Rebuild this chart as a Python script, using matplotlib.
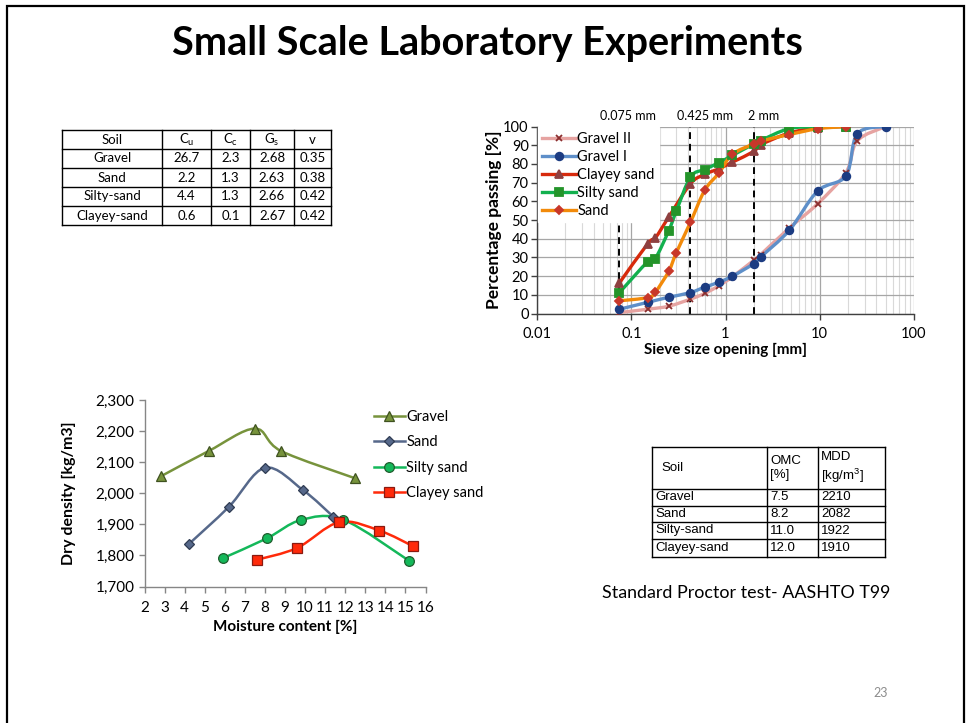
import numpy as np
import matplotlib
matplotlib.use("Agg")
import matplotlib.pyplot as plt
from matplotlib.path import Path
from matplotlib.patches import PathPatch, Rectangle
from matplotlib.lines import Line2D
from matplotlib.ticker import FuncFormatter, LogLocator, NullFormatter

plt.rcParams['font.family'] = ['Lato', 'DejaVu Sans']

W, H = 967, 723

# ---------------- data ----------------
title = "Small Scale Laboratory Experiments"

# Sieve analysis
gravel_sizes = [0.075, 0.15, 0.25, 0.425, 0.6, 0.85, 1.18, 2.0, 2.36, 4.75, 9.5, 19, 25, 50]
gravel2_pass = [0.5, 2.3, 3.9, 7.7, 10.7, 14.8, 19.6, 28.5, 31.5, 45.7, 58.7, 75.4, 92.3, 100]
gravel1_pass = [2.3, 6.0, 8.7, 11.2, 14.1, 16.7, 19.9, 26.7, 30.2, 44.5, 65.5, 73.7, 96.1, 100]
clayey_sizes = [0.075, 0.15, 0.18, 0.25, 0.425, 0.6, 0.85, 1.18, 2.0, 2.36, 4.75, 9.5, 19]
clayey_pass = [16.4, 37.4, 40.4, 51.6, 69.4, 74.4, 77.4, 80.9, 86.7, 90.2, 96.5, 99.3, 100]
sand_sizes = [0.075, 0.15, 0.18, 0.25, 0.3, 0.425, 0.6, 0.85, 1.18, 2.0, 2.36, 4.75, 9.5, 19]
silty_pass = [11.2, 27.8, 29.4, 44.3, 54.6, 73.0, 77.0, 80.6, 84.5, 90.7, 92.5, 98.9, 99.8, 100]
sand_pass = [6.8, 8.5, 11.4, 22.6, 32.4, 48.8, 65.8, 75.1, 85.1, 90.7, 92.2, 95.7, 98.8, 100]
sieve_marks = [0.075, 0.425, 2.0]
sieve_mark_labels = ["0.075 mm", "0.425 mm", "2 mm"]

# Proctor
gravel_mc = [2.8, 5.2, 7.5, 8.8, 12.5]
gravel_dd = [2054, 2136, 2208, 2136, 2048]
sand_mc = [4.2, 6.2, 8.0, 9.9, 11.4]
sand_dd = [1836, 1956, 2082, 2010, 1925]
silty_mc = [5.9, 8.1, 9.8, 11.9, 15.2]
silty_dd = [1791, 1855, 1914, 1915, 1782]
clayey_mc = [7.6, 9.6, 11.7, 13.7, 15.4]
clayey_dd = [1786, 1824, 1907, 1880, 1829]

# Tables
t1_header = ["Soil", "C$_{\\mathregular{u}}$", "C$_{\\mathregular{c}}$", "G$_{\\mathregular{s}}$", "v"]
t1_soils = ["Gravel", "Sand", "Silty-sand", "Clayey-sand"]
t1_cu = ["26.7", "2.2", "4.4", "0.6"]
t1_cc = ["2.3", "1.3", "1.3", "0.1"]
t1_gs = ["2.68", "2.63", "2.66", "2.67"]
t1_v = ["0.35", "0.38", "0.42", "0.42"]

t2_header = ["Soil", "OMC\n[%]", "MDD\n[kg/m$^{\\mathregular{3}}$]"]
t2_soils = ["Gravel", "Sand", "Silty-sand", "Clayey-sand"]
t2_omc = ["7.5", "8.2", "11.0", "12.0"]
t2_mdd = ["2210", "2082", "1922", "1910"]

caption = "Standard Proctor test- AASHTO T99"
page_no = "23"


def fx(px):
    return px / W


def fy(py):
    return 1 - py / H


def smooth_path(xs, ys, logx=False):
    X = np.log10(np.asarray(xs, float)) if logx else np.asarray(xs, float)
    Y = np.asarray(ys, float)
    P = np.column_stack([X, Y])
    n = len(P)
    verts = [P[0]]
    codes = [Path.MOVETO]
    for i in range(n - 1):
        p0 = P[i - 1] if i > 0 else P[i]
        p1 = P[i]
        p2 = P[i + 1]
        p3 = P[i + 2] if i + 2 < n else P[i + 1]
        c1 = p1 + (p2 - p0) / 6.0
        c2 = p2 - (p3 - p1) / 6.0
        verts += [c1, c2, p2]
        codes += [Path.CURVE4] * 3
    V = np.array(verts)
    if logx:
        V[:, 0] = 10 ** V[:, 0]
    return Path(V, codes)


fig = plt.figure(figsize=(W / 100, H / 100), dpi=100)
fig.patch.set_facecolor("white")

# slide border
fig.add_artist(Rectangle((fx(7), -0.05), fx(957), fy(6) + 0.05, transform=fig.transFigure,
                         fill=False, edgecolor="black", lw=1.6))

# title
fig.text(fx(487), fy(43), title, ha="center", va="center", fontsize=28.5,
         fontweight="bold", color="black")

# ---------------- sieve chart ----------------
ax1 = fig.add_axes([fx(537), fy(313.5), fx(914 - 537), (313.5 - 126.5) / H])
ax1.set_xscale("log")
ax1.set_xlim(0.01, 100)
ax1.set_ylim(0, 100)
ax1.xaxis.set_major_locator(LogLocator(base=10, numticks=10))
ax1.xaxis.set_minor_locator(LogLocator(base=10, subs=np.arange(2, 10), numticks=20))
ax1.xaxis.set_major_formatter(FuncFormatter(lambda v, p: "%g" % v))
ax1.xaxis.set_minor_formatter(NullFormatter())
ax1.set_yticks(np.arange(0, 101, 10))
ax1.grid(True, which="major", color="#A6A6A6", lw=0.9)
ax1.grid(True, which="minor", axis="x", color="#D9D9D9", lw=0.8)
ax1.set_axisbelow(True)
for s in ["top", "right"]:
    ax1.spines[s].set_visible(False)
for s in ["left", "bottom"]:
    ax1.spines[s].set_color("#404040")
    ax1.spines[s].set_linewidth(1.0)
ax1.tick_params(which="major", length=4, width=1.0, color="#404040", labelsize=10.5)
ax1.tick_params(axis="x", pad=6)
ax1.tick_params(axis="y", pad=2)
ax1.tick_params(which="minor", length=0)
ax1.set_xlabel("Sieve size opening [mm]", fontsize=11, fontweight="bold", labelpad=1)
ax1.set_ylabel("Percentage passing [%]", fontsize=12.5, fontweight="bold", labelpad=1)

sieve_series = [
    ("Gravel II", gravel_sizes, gravel2_pass, "#E6A3A1", "x", "#8B2E2E", "#8B2E2E", 5),
    ("Gravel I", gravel_sizes, gravel1_pass, "#5E8FC9", "o", "#1C3C82", "#1C3C82", 5.5),
    ("Clayey sand", clayey_sizes, clayey_pass, "#D72A0C", "^", "#8E4040", "#8E4040", 6),
    ("Silty sand", sand_sizes, silty_pass, "#12B04E", "s", "#24942A", "#24942A", 5.5),
    ("Sand", sand_sizes, sand_pass, "#F28A0A", "D", "#C8372A", "#C8372A", 4),
]
handles = []
for name, xs, ys, lc, mk, mfc, mec, ms in sieve_series:
    ax1.add_patch(PathPatch(smooth_path(xs, ys, logx=True), fill=False, edgecolor=lc,
                            lw=2.4, zorder=3, capstyle="round", joinstyle="round"))
    ax1.plot(xs, ys, ls="none", marker=mk, mfc=mfc, mec=mec, ms=ms, mew=1.3, zorder=4)
    handles.append(Line2D([0], [0], color=lc, lw=2.4, marker=mk, mfc=mfc, mec=mec, ms=ms, mew=1.3))

for xv, lab, off in zip(sieve_marks, sieve_mark_labels, [9, 15, 10]):
    ax1.plot([xv, xv], [0, 100], color="black", ls=(0, (3.5, 2.5)), lw=1.4, zorder=2)
    ax1.annotate(lab, xy=(xv, 100), xycoords="data", xytext=(off, 10),
                 textcoords="offset pixels", ha="center", va="center", fontsize=9,
                 annotation_clip=False)

leg1 = ax1.legend(handles, [s[0] for s in sieve_series], loc="upper left",
                  bbox_to_anchor=(0.0, 1.0), frameon=True, fancybox=False, framealpha=1,
                  edgecolor="white", facecolor="white", fontsize=10.5, handlelength=2.3,
                  handletextpad=0.1, labelspacing=0.27, borderpad=0.32, borderaxespad=0.05)
leg1.set_zorder(5)

# ---------------- proctor chart ----------------
ax2 = fig.add_axes([fx(144.5), fy(586.5), fx(425.5 - 144.5), (586.5 - 400) / H])
ax2.set_xlim(2, 16)
ax2.set_ylim(1700, 2300)
ax2.set_xticks(np.arange(2, 17, 1))
ax2.set_yticks(np.arange(1700, 2301, 100))
ax2.yaxis.set_major_formatter(FuncFormatter(lambda v, p: "{:,.0f}".format(v)))
for s in ["top", "right"]:
    ax2.spines[s].set_visible(False)
for s in ["left", "bottom"]:
    ax2.spines[s].set_color("#868686")
    ax2.spines[s].set_linewidth(1.0)
ax2.tick_params(length=4, width=1.0, color="#868686", labelsize=11)
ax2.tick_params(axis="x", pad=6.3)
ax2.tick_params(axis="y", pad=3)
ax2.set_xlabel("Moisture content [%]", fontsize=11, fontweight="bold", labelpad=4)
ax2.set_ylabel("Dry density [kg/m3]", fontsize=11.5, fontweight="bold", labelpad=14)

proctor_series = [
    ("Gravel", gravel_mc, gravel_dd, "#77933C", "^", "#77933C", "#3F5220", 6.5),
    ("Sand", sand_mc, sand_dd, "#56688A", "D", "#56688A", "#2F3B52", 5),
    ("Silty sand", silty_mc, silty_dd, "#14B85A", "o", "#14B85A", "#1F5E2E", 7),
    ("Clayey sand", clayey_mc, clayey_dd, "#FF2A0A", "s", "#FF2A0A", "#8A1A10", 6.5),
]
handles2 = []
for name, xs, ys, lc, mk, mfc, mec, ms in proctor_series:
    ax2.add_patch(PathPatch(smooth_path(xs, ys), fill=False, edgecolor=lc, lw=1.8, zorder=3))
    ax2.plot(xs, ys, ls="none", marker=mk, mfc=mfc, mec=mec, ms=ms, mew=0.9, zorder=4)
    handles2.append(Line2D([0], [0], color=lc, lw=1.8, marker=mk, mfc=mfc, mec=mec, ms=ms, mew=0.9))

fig.legend(handles2, [s[0] for s in proctor_series], loc="upper left",
           bbox_to_anchor=(fx(374), fy(410)), frameon=False, fontsize=10.5,
           handlelength=2.1, handletextpad=0.1, labelspacing=0.78, borderpad=0, borderaxespad=0)

# ---------------- table 1 ----------------
t1_x = [62, 162, 211, 250, 294, 331]
t1_top, t1_bot = 130, 225
axt1 = fig.add_axes([fx(t1_x[0]), fy(t1_bot), fx(t1_x[-1] - t1_x[0]), (t1_bot - t1_top) / H])
axt1.set_xlim(t1_x[0], t1_x[-1])
axt1.set_ylim(t1_bot, t1_top)
axt1.axis("off")
nrows = 1 + len(t1_soils)
rh = (t1_bot - t1_top) / nrows
for xv in t1_x:
    axt1.plot([xv, xv], [t1_top, t1_bot], color="black", lw=1.0, clip_on=False)
for r in range(nrows + 1):
    axt1.plot([t1_x[0], t1_x[-1]], [t1_top + r * rh] * 2, color="black", lw=1.0, clip_on=False)
cols1 = [[t1_header[0]] + t1_soils, [t1_header[1]] + t1_cu, [t1_header[2]] + t1_cc,
         [t1_header[3]] + t1_gs, [t1_header[4]] + t1_v]
for c, colvals in enumerate(cols1):
    xc = (t1_x[c] + t1_x[c + 1]) / 2
    for r, val in enumerate(colvals):
        axt1.text(xc, t1_top + (r + 0.5) * rh, val, ha="center", va="center", fontsize=9.5)

# ---------------- table 2 ----------------
t2_x = [652, 767, 818, 885]
t2_y = [447, 489, 505.5, 522, 539, 556.5]
axt2 = fig.add_axes([fx(t2_x[0]), fy(t2_y[-1]), fx(t2_x[-1] - t2_x[0]), (t2_y[-1] - t2_y[0]) / H])
axt2.set_xlim(t2_x[0], t2_x[-1])
axt2.set_ylim(t2_y[-1], t2_y[0])
axt2.axis("off")
for xv in t2_x:
    axt2.plot([xv, xv], [t2_y[0], t2_y[-1]], color="black", lw=1.0, clip_on=False)
for yv in t2_y:
    axt2.plot([t2_x[0], t2_x[-1]], [yv, yv], color="black", lw=1.0, clip_on=False)
axt2.text(t2_x[0] + 9, (t2_y[0] + t2_y[1]) / 2, t2_header[0], ha="left", va="center",
          fontsize=9.5, family="Liberation Sans")
for c in (1, 2):
    axt2.text(t2_x[c] + 3, (t2_y[0] + t2_y[1]) / 2, t2_header[c], ha="left", va="center",
              fontsize=9.5, family="Liberation Sans", linespacing=1.25)
cols2 = [t2_soils, t2_omc, t2_mdd]
for c, colvals in enumerate(cols2):
    for r, val in enumerate(colvals):
        axt2.text(t2_x[c] + 3, (t2_y[r + 1] + t2_y[r + 2]) / 2, val, ha="left", va="center",
                  fontsize=9.5, family="Liberation Sans")

fig.text(fx(746.5), fy(593), caption, ha="center", va="center", fontsize=12.9)
fig.text(fx(881), fy(693), page_no, ha="center", va="center", fontsize=9, color="#8C8C8C")

fig.savefig("out.png", dpi=100, facecolor="white")
